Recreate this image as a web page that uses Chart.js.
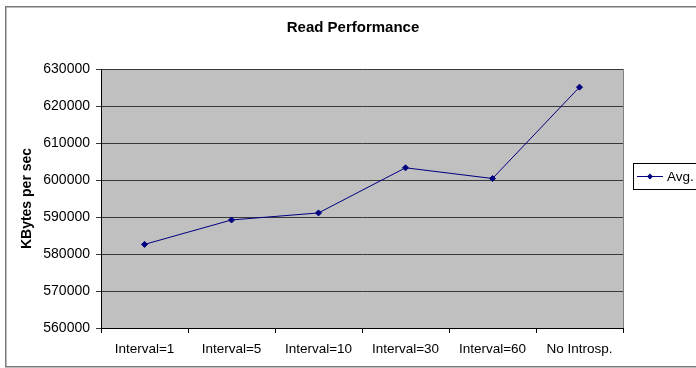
<!DOCTYPE html>
<html>
<head>
<meta charset="utf-8">
<script src="https://cdn.jsdelivr.net/npm/chart.js@4"></script>
<style>
  html, body { margin: 0; padding: 0; background: #fff; }
  #wrap { width: 696px; height: 368px; }
</style>
</head>
<body>
<div id="wrap"><canvas id="c" width="696" height="368"></canvas></div>
<script>
// Read throughput per introspection interval
const chartTitle = 'Read Performance';
const yTitle = 'KBytes per sec';
const seriesName = 'Avg.';
const categories = ['Interval=1', 'Interval=5', 'Interval=10', 'Interval=30', 'Interval=60', 'No Introsp.'];
const avgValues = [582600, 589200, 591100, 603300, 600400, 625100];
const yMin = 560000;
const yMax = 630000;
const yStep = 10000;

const FONT = '"Liberation Sans", Arial, sans-serif';
const NAVY = '#000080';

// Frame, plot background, title and boxed legend
const decor = {
  id: 'decor',
  beforeDraw(chart) {
    const { ctx, chartArea: a } = chart;
    ctx.save();
    ctx.fillStyle = '#ffffff';
    ctx.fillRect(0, 0, chart.width, chart.height);
    ctx.fillStyle = '#c0c0c0';
    ctx.fillRect(a.left, a.top, a.right - a.left, a.bottom - a.top);
    ctx.restore();
  },
  afterDraw(chart) {
    const { ctx, chartArea: a } = chart;
    ctx.save();
    // plot border (right edge)
    ctx.strokeStyle = '#808080';
    ctx.lineWidth = 1;
    ctx.beginPath();
    ctx.moveTo(a.right + 0.5, a.top);
    ctx.lineTo(a.right + 0.5, a.bottom);
    ctx.stroke();
    // outer frame
    ctx.strokeStyle = '#7a7a7a';
    ctx.lineWidth = 1.5;
    ctx.strokeRect(5.75, 6.75, 720, 360);
    // title
    ctx.fillStyle = '#000';
    ctx.font = 'bold 15px ' + FONT;
    ctx.textAlign = 'center';
    ctx.textBaseline = 'middle';
    ctx.fillText(chartTitle, 353, 28);
    // legend box
    const bx = a.right + 10, by = 163, bh = 26;
    const cy = by + bh / 2;
    ctx.strokeStyle = '#000';
    ctx.lineWidth = 1;
    ctx.fillStyle = '#fff';
    ctx.fillRect(bx + 0.5, by + 0.5, 80, bh);
    ctx.strokeRect(bx + 0.5, by + 0.5, 80, bh);
    ctx.strokeStyle = NAVY;
    ctx.beginPath();
    ctx.moveTo(bx + 4, cy + 0.5);
    ctx.lineTo(bx + 30, cy + 0.5);
    ctx.stroke();
    ctx.fillStyle = NAVY;
    ctx.beginPath();
    const dx = bx + 17, r = 3;
    ctx.moveTo(dx, cy + 0.5 - r);
    ctx.lineTo(dx + r, cy + 0.5);
    ctx.lineTo(dx, cy + 0.5 + r);
    ctx.lineTo(dx - r, cy + 0.5);
    ctx.closePath();
    ctx.fill();
    ctx.fillStyle = '#000';
    ctx.font = '13.5px ' + FONT;
    ctx.textAlign = 'left';
    ctx.fillText(chart.data.datasets[0].label, bx + 34, cy + 1);
    ctx.restore();
  }
};

new Chart(document.getElementById('c'), {
  type: 'line',
  data: {
    labels: categories,
    datasets: [{
      label: seriesName,
      data: avgValues,
      borderColor: NAVY,
      backgroundColor: NAVY,
      borderWidth: 1,
      pointStyle: 'rectRot',
      pointRadius: 3,
      pointBorderWidth: 1,
      tension: 0,
      fill: false
    }]
  },
  options: {
    responsive: false,
    animation: false,
    devicePixelRatio: 1,
    layout: { padding: { left: 8, right: 73, top: 69, bottom: 0 } },
    plugins: {
      legend: { display: false },
      title: { display: false },
      tooltip: { enabled: false }
    },
    scales: {
      x: {
        type: 'category',
        offset: true,
        grid: {
          offset: true,
          drawOnChartArea: false,
          drawTicks: true,
          tickLength: 5,
          color: '#000'
        },
        border: { display: true, color: '#000', width: 1 },
        ticks: {
          color: '#000',
          font: { family: FONT, size: 13.5 },
          padding: 8,
          maxRotation: 0,
          autoSkip: false
        },
        afterFit(scale) { scale.height = 40; }
      },
      y: {
        min: yMin,
        max: yMax,
        grid: {
          color: '#383838',
          lineWidth: 1,
          drawTicks: true,
          tickLength: 5
        },
        border: { display: true, color: '#000', width: 1 },
        ticks: {
          stepSize: yStep,
          color: '#000',
          font: { family: FONT, size: 14 },
          padding: 6,
          callback: v => String(v)
        },
        title: {
          display: true,
          text: yTitle,
          color: '#000',
          font: { family: FONT, size: 14, weight: 'bold' },
          padding: { top: 11, bottom: 0 }
        },
        afterFit(scale) { scale.width = 93; }
      }
    }
  },
  plugins: [decor]
});
</script>
</body>
</html>
